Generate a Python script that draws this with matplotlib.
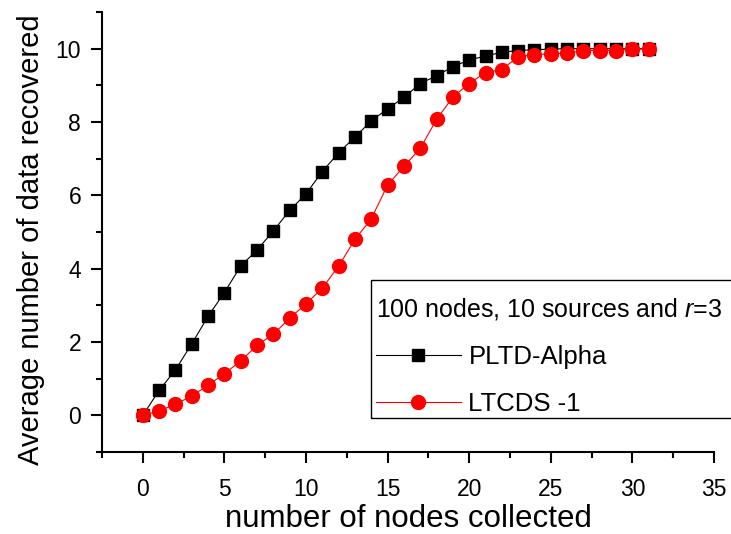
import matplotlib.pyplot as plt
import numpy as np
from matplotlib.ticker import MultipleLocator
from matplotlib.patches import Rectangle

plt.rcParams['font.family'] = ['Liberation Sans', 'DejaVu Sans']
plt.rcParams['mathtext.fontset'] = 'custom'
plt.rcParams['mathtext.it'] = 'Liberation Sans:italic'
plt.rcParams['mathtext.rm'] = 'Liberation Sans'

nodes = np.arange(0, 32)
pltd_alpha = [0, 0.68, 1.24, 1.95, 2.70, 3.35, 4.07, 4.51, 5.03, 5.59, 6.04, 6.65, 7.16, 7.59, 8.03,
              8.36, 8.67, 9.05, 9.26, 9.51, 9.69, 9.80, 9.90, 9.95, 9.97, 9.99, 10, 10, 10, 10, 10, 10]
ltcds_1 = [0, 0.12, 0.30, 0.53, 0.82, 1.14, 1.48, 1.91, 2.21, 2.65, 3.04, 3.47, 4.07, 4.80, 5.36,
           6.28, 6.79, 7.28, 8.07, 8.68, 9.05, 9.35, 9.43, 9.78, 9.84, 9.86, 9.88, 9.95, 9.95, 9.95, 9.99, 9.99]

fig = plt.figure(figsize=(7.31, 5.34), dpi=100)
ax = fig.add_axes([102 / 731, 82 / 534, 612 / 731, 440 / 534])

ax.plot(nodes, pltd_alpha, color='black', lw=0.8, marker='s', ms=8, label='PLTD-Alpha')
ax.plot(nodes, ltcds_1, color='red', lw=0.8, marker='o', ms=10, label='LTCDS -1')

ax.set_xlim(-2.5, 35)
ax.set_ylim(-1, 11)
ax.xaxis.set_major_locator(MultipleLocator(5))
ax.xaxis.set_minor_locator(MultipleLocator(2.5))
ax.yaxis.set_major_locator(MultipleLocator(2))
ax.yaxis.set_minor_locator(MultipleLocator(1))
ax.tick_params(which='major', direction='out', length=8, width=1.5, labelsize=16.5)
ax.tick_params(which='minor', direction='out', length=4, width=1.5)
ax.tick_params(axis='x', which='major', pad=11)
ax.tick_params(axis='y', which='major', pad=7)
for s in ['top', 'right']:
    ax.spines[s].set_visible(False)
for s in ['left', 'bottom']:
    ax.spines[s].set_linewidth(1.5)

ax.set_xlabel('number of nodes collected', fontsize=22.5, labelpad=2)
ax.set_ylabel('Average number of data recovered', fontsize=21)
ax.yaxis.set_label_coords(-0.093, 0.482)

# legend box runs off the right edge in the original
fig.patches.append(Rectangle((371 / 731, 1 - 418 / 534), 400 / 731, 138 / 534,
                             transform=fig.transFigure, fill=False, ec='black', lw=1.0))
leg = ax.legend(title='100 nodes, 10 sources and $\\mathit{r}$=3', loc='upper left',
                bbox_to_anchor=(376 / 731, 1 - 296 / 534), bbox_transform=fig.transFigure,
                fontsize=18.5, title_fontsize=18, frameon=False,
                handlelength=3.3, labelspacing=0.9, borderpad=0, handletextpad=0.3,
                borderaxespad=0)
leg._legend_box.align = 'left'

fig.savefig('out.png', dpi=100)
